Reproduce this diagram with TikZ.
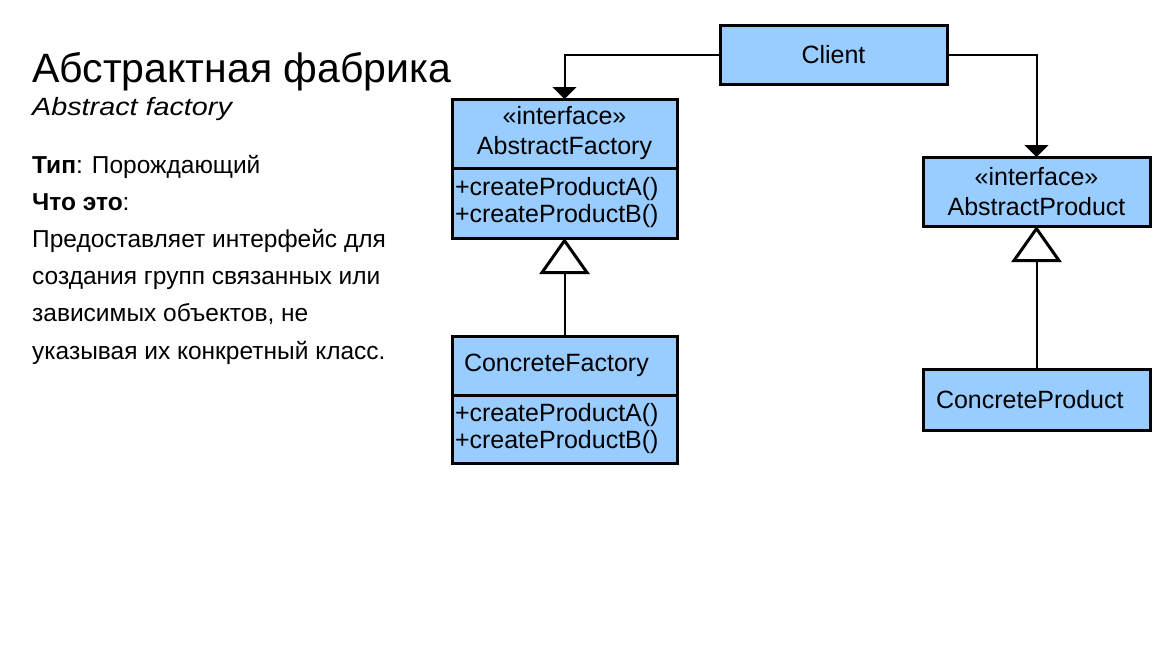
\documentclass[tikz,border=0pt]{standalone}
\usepackage{fontspec}
\setmainfont{Liberation Sans}
\newfontfamily\widesans[FakeStretch=1.15]{Liberation Sans}
\usetikzlibrary{arrows.meta,positioning}
\definecolor{boxblue}{HTML}{99CCFF}

\begin{document}
\begin{tikzpicture}[x=1pt,y=-1pt,
    cls/.style={draw,line width=3pt,fill=boxblue,minimum width=225pt,inner sep=0pt,outer sep=0pt,
      font=\fontsize{25}{30}\selectfont,align=center},
    plain/.style={cls,align=left,text width=201pt},
    ops/.style={cls,align=left,text width=219pt,font=\fontsize{25}{27}\selectfont},
    assoc/.style={line width=2pt,-{Triangle[length=12pt,width=24pt]}},
    inherit/.style={line width=2pt,-{Triangle[open,length=36pt,width=50pt,fill=white,line width=3pt]}},
    txt/.style={anchor=base west,inner sep=0pt,font=\fontsize{24.5}{24.5}\selectfont}]
  \useasboundingbox (0,0) rectangle (1171,648);
  % left column
  \node[txt,font=\fontsize{41}{41}\selectfont] (title) at (32,82) {Абстрактная фабрика};
  \node[txt,font=\widesans\fontsize{25}{25}\selectfont\itshape] (subtitle) at (32,115) {Abstract factory};
  \node[txt] (kind) at (32,173) {\textbf{Тип}: Порождающий};
  \node[txt] (what) at (32,210) {\textbf{Что это}:};
  \foreach \t [count=\i] in {Предоставляет интерфейс для,создания групп связанных или,
      {зависимых объектов, не},указывая их конкретный класс.}
    \node[txt] (line\i) at (32,210+37.3*\i) {\t};
  % classes
  \node[cls,minimum width=227pt,minimum height=59pt] (client) at (833.5,54.5) {Client};
  \node[cls,minimum height=69pt] (af) at (564.5,133.5) {«interface»\\AbstractFactory};
  \node[ops,minimum height=70pt,anchor=north] (afops) at (af.south) {+createProductA()\\+createProductB()};
  \node[plain,minimum height=59pt] (cf) at (564.5,365.5) {ConcreteFactory};
  \node[ops,minimum height=68pt,anchor=north] (cfops) at (cf.south) {+createProductA()\\+createProductB()};
  \node[cls,minimum width=227pt,minimum height=69pt] (ap) at (1036.5,191.5) {«interface»\\AbstractProduct};
  \node[plain,minimum width=227pt,minimum height=61pt] (cp) at (1036.5,399.5) {ConcreteProduct};
  % connectors
  \draw[assoc] (client.west) -| (af.north);
  \draw[assoc] (client.east) -| (ap.north);
  \draw[inherit] (cf.north) -- (afops.south);
  \draw[inherit] (cp.north) -- (ap.south);
\end{tikzpicture}
\end{document}
